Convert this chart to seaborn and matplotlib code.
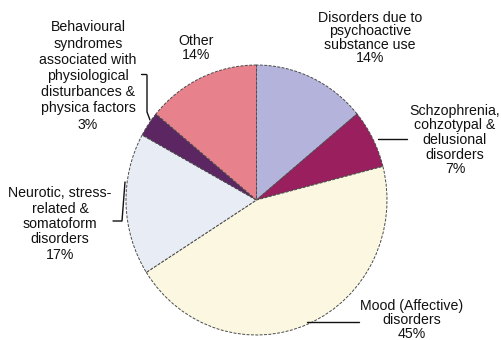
import matplotlib
matplotlib.use("Agg")
import matplotlib.pyplot as plt
import seaborn as sns

sns.set_theme(style="white")
plt.rcParams["font.family"] = ["Liberation Sans", "DejaVu Sans"]

# Share of cases by diagnostic group, in drawing order (clockwise from 12 o'clock)
categories = [
    "Disorders due to\npsychoactive\nsubstance use",
    "Schzophrenia,\ncohzotypal &\ndelusional\ndisorders",
    "Mood (Affective)\ndisorders",
    "Neurotic, stress-\nrelated &\nsomatoform\ndisorders",
    "Behavioural\nsyndromes\nassociated with\nphysiological\ndisturbances &\nphysica factors",
    "Other",
]
shares = [14, 7, 45, 17, 3, 14]
colors = ["#b3b3dc", "#9a1f5e", "#fbf7e0", "#e8ecf4", "#5b2662", "#e7818b"]

W, H = 502, 340
fig = plt.figure(figsize=(W / 100, H / 100), dpi=100)
ax = fig.add_axes([0, 0, 1, 1])

# Pixel-like data space; x is stretched slightly so the pie is a touch taller than wide
sx = 135 / 130.5
cx, cy, r = 256.5 * sx, H - 200, 135

wedges, _ = ax.pie(
    shares,
    colors=colors,
    startangle=90,
    counterclock=False,
    center=(cx, cy),
    radius=r,
    wedgeprops=dict(edgecolor="#4a4a4a", linewidth=0.7, linestyle=(0, (3, 1.5))),
)
ax.set_aspect("auto")
ax.set_xlim(0, W * sx)
ax.set_ylim(0, H)
ax.axis("off")


def P(x, y):
    return (x * sx, H - y)


labels = [f"{c}\n{s}%" for c, s in zip(categories, shares)]
label_pos = [(370, 38), (455, 140), (412, 320), (60, 224), (88, 76), (196, 48)]
spacing = [0.95, 1.05, 1.0, 1.12, 1.2, 1.0]
for text, (x, y), ls in zip(labels, label_pos, spacing):
    ax.text(*P(x, y), text, ha="center", va="center", fontsize=10.2,
            color="#111111", linespacing=ls)

# Leader lines from labels to their slices
leaders = [
    [(378, 139), (407, 139)],
    [(307, 322), (359, 322)],
    [(113, 221), (122, 221), (125, 182)],
    [(147, 75), (147, 112), (150, 120)],
]
for pts in leaders:
    xs, ys = zip(*[P(*p) for p in pts])
    ax.plot(xs, ys, color="#111111", linewidth=1.0)
xs, ys = zip(*[P(141, 74), P(146, 74)])
ax.plot(xs, ys, color="#111111", linewidth=1.0)

fig.savefig("out.png", dpi=100)
